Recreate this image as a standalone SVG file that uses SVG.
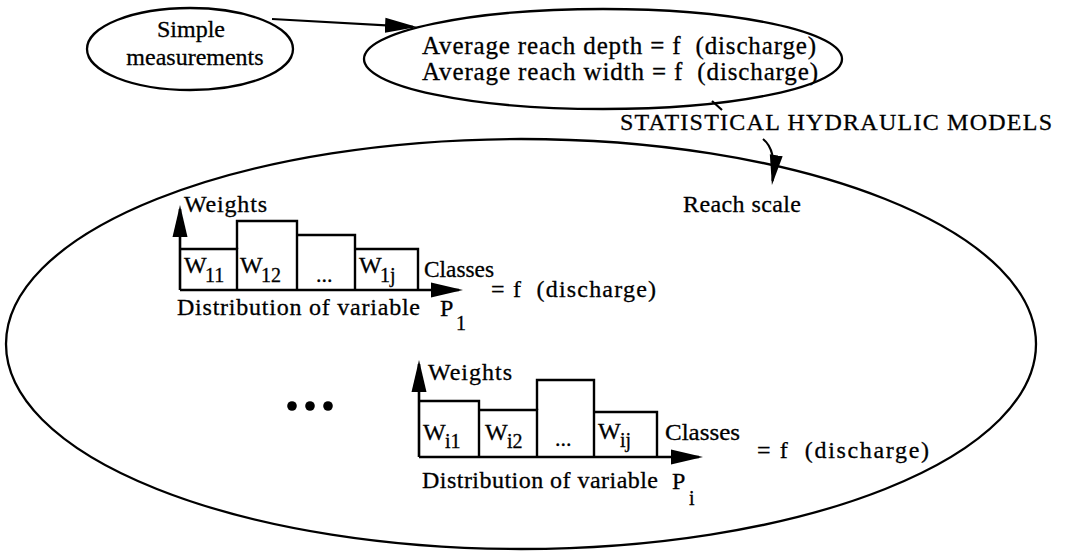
<svg xmlns="http://www.w3.org/2000/svg" width="1069" height="551" viewBox="0 0 1069 551">
<style>
text{font-family:"Liberation Serif","Times New Roman",serif;fill:#000;stroke:#000;stroke-width:0.3;white-space:pre}
.t24{font-size:24px}
.t25{font-size:25px}
.t22{font-size:22px}
.sub{font-size:20px}
.ell{fill:none;stroke:#000;stroke-width:2.3}
.ax{fill:none;stroke:#000;stroke-width:2.6}
.bar{fill:none;stroke:#000;stroke-width:2.4}
.con{fill:none;stroke:#000;stroke-width:2.2}
</style>
<defs>
<marker id="ah" markerUnits="userSpaceOnUse" markerWidth="32" markerHeight="16" viewBox="0 0 32 16" refX="28" refY="8" orient="auto">
<path d="M0,0.5 L32,8 L0,15.5 z" fill="#000"/>
</marker>
<marker id="ahs" markerUnits="userSpaceOnUse" markerWidth="30" markerHeight="14" viewBox="0 0 30 14" refX="26" refY="7" orient="auto">
<path d="M0,0.5 L30,7 L0,13.5 z" fill="#000"/>
</marker>
</defs>
<rect width="1069" height="551" fill="#fff"/>

<g id="node-simple">
<ellipse class="ell" cx="190" cy="49" rx="103" ry="41"/>
<text class="t24" x="191" y="37" text-anchor="middle">Simple</text>
<text class="t24" x="195" y="65" text-anchor="middle">measurements</text>
</g>

<g id="node-average">
<ellipse class="ell" cx="603" cy="59" rx="239" ry="50"/>
<text class="t25" x="422" y="54" textLength="394" lengthAdjust="spacing">Average reach depth = f  (discharge)</text>
<text class="t25" x="422" y="80" textLength="396" lengthAdjust="spacing">Average reach width = f  (discharge)</text>
</g>

<g id="label-statistical">
<text class="t24" x="620" y="130" textLength="432" lengthAdjust="spacing">STATISTICAL HYDRAULIC MODELS</text>
</g>

<g id="node-reach">
<ellipse class="ell" cx="521" cy="344" rx="515" ry="205"/>
<text class="t24" x="683" y="212" textLength="118" lengthAdjust="spacing">Reach scale</text>
</g>

<g id="chart-1">
<line class="ax" x1="180" y1="290" x2="180" y2="209" marker-end="url(#ah)"/>
<line class="ax" x1="180" y1="290" x2="459" y2="290" marker-end="url(#ah)"/>
<polyline class="bar" points="180,249 237,249 237,290"/>
<polyline class="bar" points="237,249 237,221 297,221 297,290"/>
<polyline class="bar" points="297,235 355,235 355,290"/>
<polyline class="bar" points="355,249 418,249 418,290"/>
<text class="t24" x="184" y="212" textLength="83" lengthAdjust="spacing">Weights</text>
<text class="t24" x="184" y="273">W</text><text class="sub" x="205" y="282">11</text>
<text class="t24" x="240" y="273">W</text><text class="sub" x="261" y="282">12</text>
<text class="t22" x="316" y="282">...</text>
<text class="t24" x="359" y="273">W</text><text class="sub" x="380" y="282">1j</text>
<text class="t24" x="424" y="277" textLength="70" lengthAdjust="spacingAndGlyphs">Classes</text>
<text class="t24" x="491" y="297" textLength="165" lengthAdjust="spacing">= f  (discharge)</text>
<text class="t24" x="177" y="315" textLength="243" lengthAdjust="spacing">Distribution of variable</text>
<text class="t24" x="440" y="316">P</text><text class="sub" x="456" y="330">1</text>
</g>

<g id="ellipsis">
<circle cx="292" cy="406" r="4.8"/>
<circle cx="310" cy="406" r="4.8"/>
<circle cx="328" cy="406" r="4.8"/>
</g>

<g id="chart-i">
<line class="ax" x1="419" y1="457" x2="419" y2="364" marker-end="url(#ah)"/>
<line class="ax" x1="419" y1="457" x2="699" y2="457" marker-end="url(#ah)"/>
<polyline class="bar" points="419,401 479,401 479,457"/>
<polyline class="bar" points="479,410 537,410 537,457"/>
<polyline class="bar" points="537,410 537,380 594,380 594,457"/>
<polyline class="bar" points="594,412 657,412 657,457"/>
<text class="t24" x="428" y="380" textLength="84" lengthAdjust="spacing">Weights</text>
<text class="t24" x="423" y="440">W</text><text class="sub" x="445" y="448">i1</text>
<text class="t24" x="485" y="440">W</text><text class="sub" x="507" y="448">i2</text>
<text class="t22" x="555" y="446">...</text>
<text class="t24" x="598" y="439">W</text><text class="sub" x="620" y="447">ij</text>
<text class="t24" x="665" y="440" textLength="75" lengthAdjust="spacingAndGlyphs">Classes</text>
<text class="t24" x="757" y="458" textLength="172" lengthAdjust="spacing">= f  (discharge)</text>
<text class="t24" x="422" y="488" textLength="236" lengthAdjust="spacing">Distribution of variable</text>
<text class="t24" x="672" y="489">P</text><text class="sub" x="689" y="505">i</text>
</g>

<g id="connectors">
<path class="con" d="M272,19 L413,26.8" marker-end="url(#ah)"/>
<path class="con" d="M712,101 L722,110"/>
<path class="con" d="M763,139 Q777,150 772.5,181" marker-end="url(#ahs)"/>
</g>
</svg>
